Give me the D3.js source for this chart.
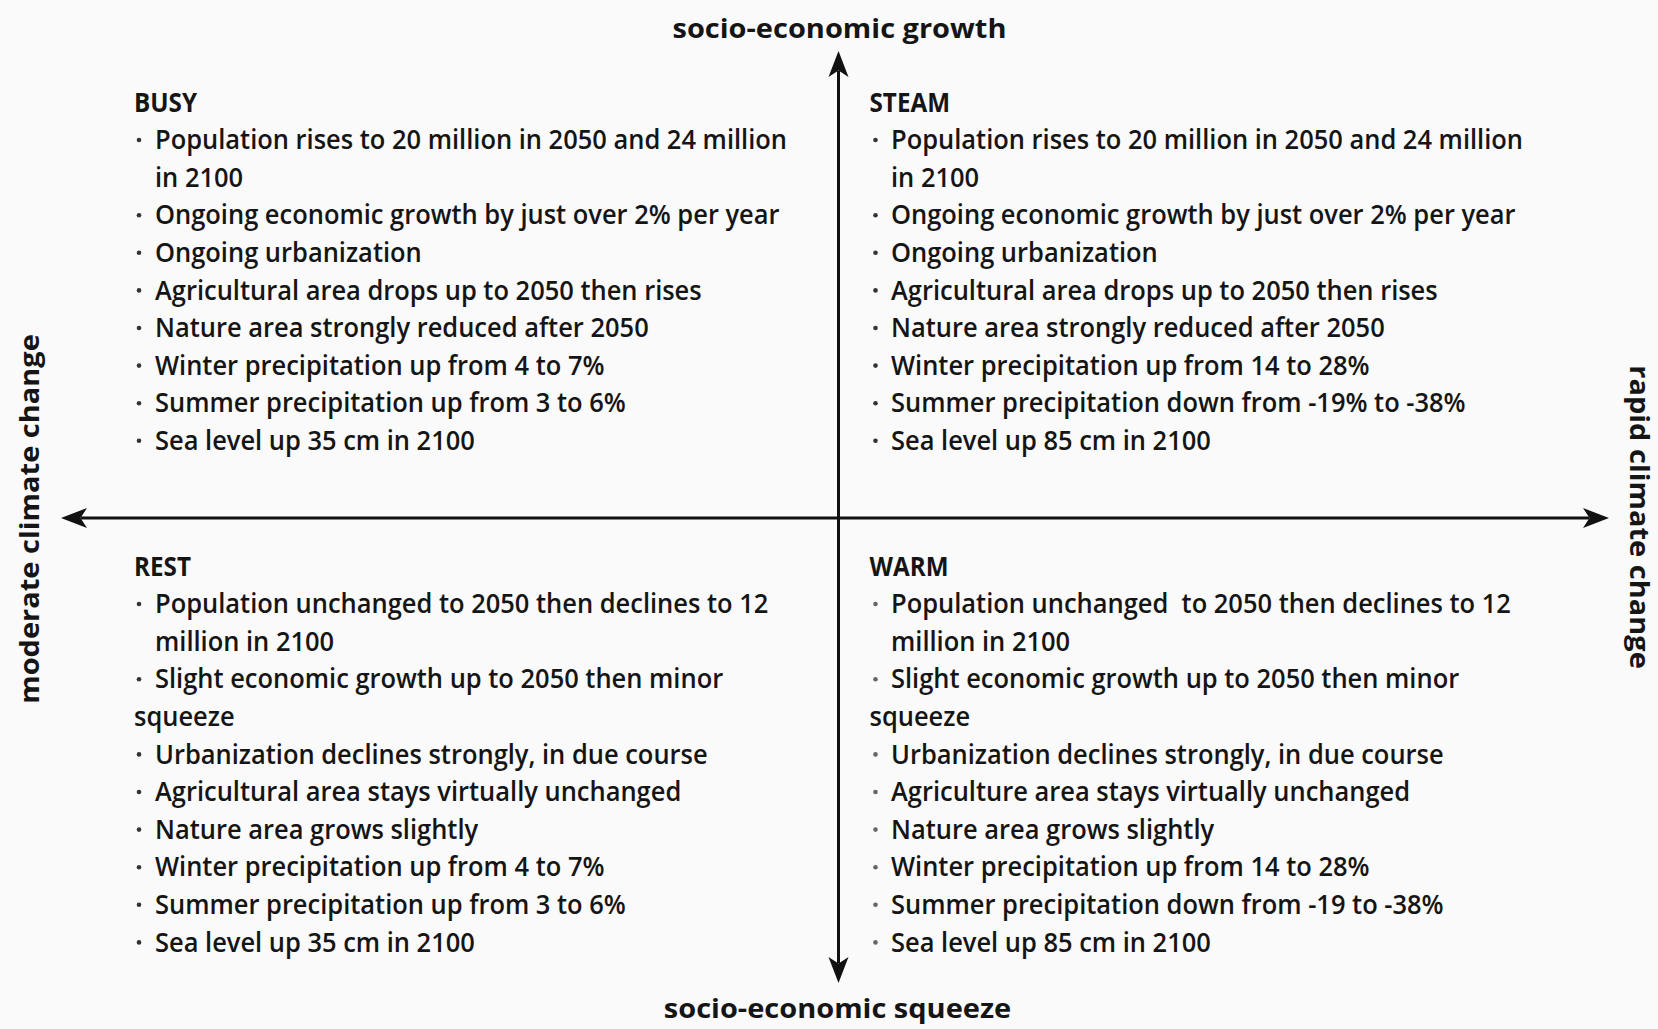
<!DOCTYPE html>
<html>
<head>
<meta charset="utf-8">
<script src="https://cdn.jsdelivr.net/npm/d3@7/dist/d3.min.js"></script>
<style>
  html, body { margin: 0; padding: 0; background: #fafafa; }
  svg { display: block; }
  text { font-family: "Open Sans", "Noto Sans", sans-serif; fill: #151515; }
</style>
</head>
<body>
<svg id="chart" width="1658" height="1029"></svg>
<script>
// ---------------- DATA ----------------
const axisLabels = ["socio-economic growth", "socio-economic squeeze", "moderate climate change", "rapid climate change"];
const quadrantNames = ["BUSY", "STEAM", "REST", "WARM"];
// line kinds: "b" = bullet line, "c" = indented continuation, "f" = flush continuation
const busyLines = [
  ["b", "Population rises to 20 million in 2050 and 24 million"],
  ["c", "in 2100"],
  ["b", "Ongoing economic growth by just over 2% per year"],
  ["b", "Ongoing urbanization"],
  ["b", "Agricultural area drops up to 2050 then rises"],
  ["b", "Nature area strongly reduced after 2050"],
  ["b", "Winter precipitation up from 4 to 7%"],
  ["b", "Summer precipitation up from 3 to 6%"],
  ["b", "Sea level up 35 cm in 2100"]
];
const steamLines = [
  ["b", "Population rises to 20 million in 2050 and 24 million"],
  ["c", "in 2100"],
  ["b", "Ongoing economic growth by just over 2% per year"],
  ["b", "Ongoing urbanization"],
  ["b", "Agricultural area drops up to 2050 then rises"],
  ["b", "Nature area strongly reduced after 2050"],
  ["b", "Winter precipitation up from 14 to 28%"],
  ["b", "Summer precipitation down from -19% to -38%"],
  ["b", "Sea level up 85 cm in 2100"]
];
const restLines = [
  ["b", "Population unchanged to 2050 then declines to 12"],
  ["c", "million in 2100"],
  ["b", "Slight economic growth up to 2050 then minor"],
  ["f", "squeeze"],
  ["b", "Urbanization declines strongly, in due course"],
  ["b", "Agricultural area stays virtually unchanged"],
  ["b", "Nature area grows slightly"],
  ["b", "Winter precipitation up from 4 to 7%"],
  ["b", "Summer precipitation up from 3 to 6%"],
  ["b", "Sea level up 35 cm in 2100"]
];
const warmLines = [
  ["b", "Population unchanged\u00a0 to 2050 then declines to 12"],
  ["c", "million in 2100"],
  ["b", "Slight economic growth up to 2050 then minor"],
  ["f", "squeeze"],
  ["b", "Urbanization declines strongly, in due course"],
  ["b", "Agriculture area stays virtually unchanged"],
  ["b", "Nature area grows slightly"],
  ["b", "Winter precipitation up from 14 to 28%"],
  ["b", "Summer precipitation down from -19 to -38%"],
  ["b", "Sea level up 85 cm in 2100"]
];
const quadrantLines = [busyLines, steamLines, restLines, warmLines];
// quadrant position in axis space: [x sign, y sign]
const quadrantSide = [[-1, 1], [1, 1], [-1, -1], [1, -1]];

// ---------------- LAYOUT ----------------
const W = 1658, H = 1029;
const svg = d3.select("#chart");
const x = d3.scaleLinear().domain([-1, 0, 1]).range([61, 838.5, 1609]);
const y = d3.scaleLinear().domain([-1, 0, 1]).range([983, 518, 51]);

const bodySize = 26.5, headSize = 26, titleSize = 27;
const lineStep = 37.6;
const bodyTargetWidth = 632;   // width of the longest BUSY line in reference
const titleTargetWidth = 334;  // width of "socio-economic growth"

const blockX = {
  "-1": { head: x(-1) + 73, bullet: x(-1) + 78, text: x(-1) + 94 },
  "1": { head: x(0) + 31, bullet: x(0) + 37, text: x(0) + 52.5 }
};
const blockY = { "1": y(0) - 415, "-1": y(0) + 49 };

// ---------------- AXES ----------------
const axisG = svg.append("g");
const stroke = "#111";
axisG.append("line").attr("x1", x(-1) + 20).attr("x2", x(1) - 20).attr("y1", y(0)).attr("y2", y(0))
  .attr("stroke", stroke).attr("stroke-width", 3);
axisG.append("line").attr("x1", x(0)).attr("x2", x(0)).attr("y1", y(1) + 20).attr("y2", y(-1) - 20)
  .attr("stroke", stroke).attr("stroke-width", 3);

function arrowHead(tx, ty, dx, dy) {
  const L = 26, Wd = 10;
  const bx = tx - dx * L, by = ty - dy * L;
  const nx = -dy, ny = dx;
  const ix = tx - dx * L * 0.75, iy = ty - dy * L * 0.75;
  return `M${tx},${ty} L${bx + nx * Wd},${by + ny * Wd} L${ix},${iy} L${bx - nx * Wd},${by - ny * Wd} Z`;
}
axisG.selectAll("path.arrow").data([
  [x(-1), y(0), -1, 0], [x(1), y(0), 1, 0], [x(0), y(1), 0, -1], [x(0), y(-1), 0, 1]
]).join("path").attr("class", "arrow")
  .attr("d", d => arrowHead(d[0], d[1], d[2], d[3]))
  .attr("fill", stroke);

// ---------------- AXIS LABELS ----------------
function squeeze(sel, factor) {
  sel.each(function () {
    const len = this.getComputedTextLength();
    d3.select(this).attr("textLength", len * factor).attr("lengthAdjust", "spacingAndGlyphs");
  });
}
const titles = svg.append("g").attr("font-weight", 700).attr("font-size", titleSize).attr("text-anchor", "middle");
const tTop = titles.append("text").attr("x", x(0) + 1).attr("y", 28.5).attr("dy", "0.35em").text(axisLabels[0]);
const titleFactor = titleTargetWidth / tTop.node().getComputedTextLength();
titles.append("text").attr("x", x(0) - 1).attr("y", 1009).attr("dy", "0.35em").text(axisLabels[1]);
titles.append("text").attr("transform", `translate(29.6,${y(0) + 1}) rotate(-90)`).attr("dy", "0.35em").text(axisLabels[2]);
titles.append("text").attr("transform", `translate(1639,${y(0) - 1}) rotate(90)`).attr("dy", "0.35em").text(axisLabels[3]);
squeeze(titles.selectAll("text"), titleFactor);

// ---------------- QUADRANT TEXT ----------------
const body = svg.append("g");
let bodyFactor = null;
quadrantNames.forEach((name, qi) => {
  const [sx, sy] = quadrantSide[qi];
  const bx = blockX[String(sx)];
  const hy = blockY[String(sy)];
  const g = body.append("g");
  g.append("text").attr("x", bx.head).attr("y", hy).attr("dy", "0.35em")
    .attr("font-weight", 700).attr("font-size", headSize).text(name);
  const lines = quadrantLines[qi];
  const rows = g.selectAll("g.row").data(lines).join("g").attr("class", "row")
    .attr("transform", (d, i) => `translate(0,${hy + 37 + i * lineStep})`);
  rows.filter(d => d[0] === "b").append("circle")
    .attr("cx", bx.bullet).attr("cy", 0).attr("r", 2.3)
    .attr("fill", sy < 0 && sx > 0 ? "#666" : "#333");
  rows.append("text")
    .attr("x", d => d[0] === "f" ? bx.head : bx.text)
    .attr("dy", "0.35em")
    .attr("font-size", bodySize).attr("font-weight", 600)
    .attr("class", "bodyline")
    .text(d => d[1]);
  if (bodyFactor === null) {
    bodyFactor = bodyTargetWidth / rows.select("text").node().getComputedTextLength();
  }
});
squeeze(body.selectAll("text.bodyline"), bodyFactor);
squeeze(body.selectAll("text:not(.bodyline)"), bodyFactor * 0.97);
</script>
</body>
</html>
